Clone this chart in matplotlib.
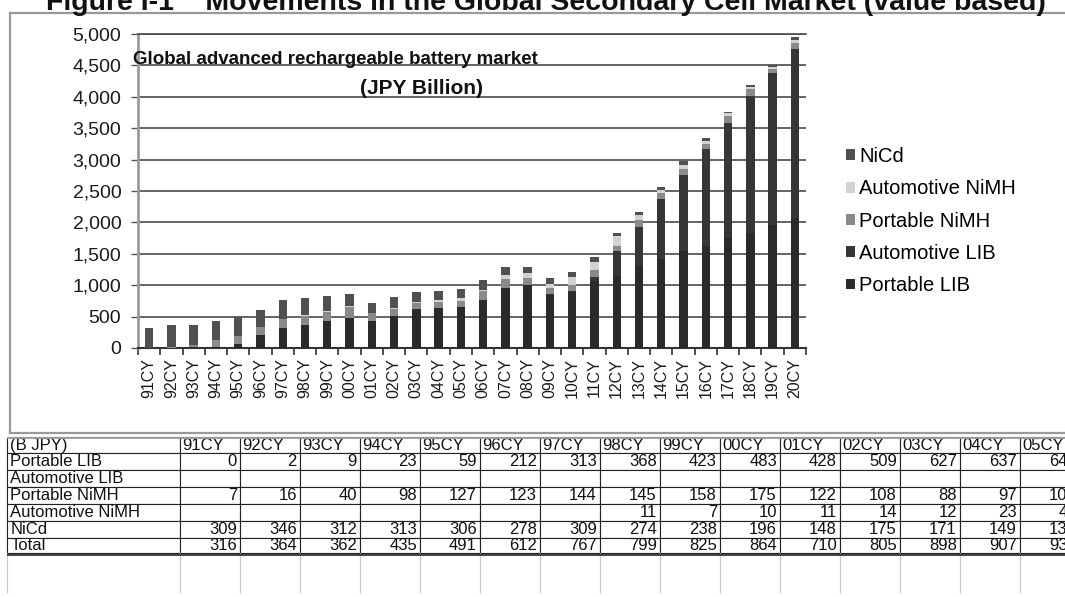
import numpy as np
import matplotlib.pyplot as plt
from matplotlib.lines import Line2D
from matplotlib.table import Table

plt.rcParams['font.family'] = ['Liberation Sans', 'DejaVu Sans']

years = ['91CY', '92CY', '93CY', '94CY', '95CY', '96CY', '97CY', '98CY', '99CY', '00CY',
         '01CY', '02CY', '03CY', '04CY', '05CY', '06CY', '07CY', '08CY', '09CY', '10CY',
         '11CY', '12CY', '13CY', '14CY', '15CY', '16CY', '17CY', '18CY', '19CY', '20CY']
portable_lib = [0, 2, 9, 23, 59, 212, 313, 368, 423, 483, 428, 509, 627, 637, 647,
                760, 950, 1000, 850, 885, 1070, 1140, 1300, 1420, 1550, 1630, 1750, 1830, 1960, 2070]
automotive_lib = [0, 0, 0, 0, 0, 0, 0, 0, 0, 0, 0, 0, 0, 0, 0,
                  0, 0, 0, 3, 20, 60, 400, 630, 950, 1210, 1540, 1840, 2190, 2420, 2690]
portable_nimh = [7, 16, 40, 98, 127, 123, 144, 145, 158, 175, 122, 108, 88, 97, 103,
                 140, 147, 120, 105, 95, 105, 90, 105, 95, 95, 80, 105, 105, 70, 95]
automotive_nimh = [0, 0, 0, 0, 0, 0, 0, 11, 7, 10, 11, 14, 12, 23, 44,
                   26, 68, 79, 68, 130, 142, 147, 79, 58, 58, 47, 42, 32, 32, 53]
nicd = [309, 346, 312, 313, 306, 278, 309, 274, 238, 196, 148, 175, 171, 149, 139,
        155, 126, 89, 84, 84, 79, 53, 53, 47, 58, 42, 27, 32, 32, 37]
# totals as printed in the table (rounded)
table_total = [316, 364, 362, 435, 491, 612, 767, 799, 825, 864, 710, 805, 898, 907, 933]

W, H = 1065, 597
def fx(px):
    return px / W
def fy(py):
    return 1 - py / H

fig = plt.figure(figsize=(W / 100, H / 100), dpi=100)

# outer figure title (cut at top like the original) and chart frame
fig.text(fx(546), fy(10), 'Figure I-1    Movements in the Global Secondary Cell Market (value based)',
         ha='center', va='baseline', fontsize=20.5, fontweight='bold', color='#111')
for xs, ys in [([10, 1065], [13, 13]), ([10, 10], [13, 433]), ([10, 1065], [433, 433])]:
    fig.add_artist(Line2D([fx(v) for v in xs], [fy(v) for v in ys],
                          transform=fig.transFigure, color='#999999', lw=1.6))

# stacked bars
ax = fig.add_axes([fx(138), fy(348), fx(806) - fx(138), fy(34) - fy(348)])
x = np.arange(len(years))
series = [(portable_lib, 'Portable LIB', '#2a2a2a'),
          (automotive_lib, 'Automotive LIB', '#363636'),
          (portable_nimh, 'Portable NiMH', '#8a8a8a'),
          (automotive_nimh, 'Automotive NiMH', '#d2d2d2'),
          (nicd, 'NiCd', '#505050')]
bottom = np.zeros(len(years))
for vals, name, col in series:
    ax.bar(x, vals, 0.38, bottom=bottom, color=col, label=name, zorder=3)
    bottom += np.array(vals)

ax.set_xlim(-0.5, len(years) - 0.5)
ax.set_ylim(0, 5000)
yt = np.arange(0, 5001, 500)
ax.set_yticks(yt)
ax.set_yticklabels([f'{v:,}' for v in yt])
ax.yaxis.grid(True, color='#4a4a4a', lw=1.2, zorder=0)
ax.set_xticks(x)
ax.set_xticklabels(years, rotation=90)
ax.set_xticks(np.arange(-0.5, len(years)), minor=True)
ax.tick_params(axis='x', which='major', length=0, pad=7, labelsize=11.5, labelcolor='#1a1a1a')
ax.tick_params(axis='x', which='minor', length=5, width=1.2, color='#333')
ax.tick_params(axis='y', length=5, width=1, color='#555', labelsize=14, pad=7, labelcolor='#1a1a1a')
ax.spines['right'].set_visible(False)
ax.spines['top'].set_color('#4a4a4a')
ax.spines['top'].set_linewidth(1.2)
ax.spines['left'].set_color('#9a9a9a')
ax.spines['left'].set_linewidth(2)
ax.spines['bottom'].set_color('#333')
ax.spines['bottom'].set_linewidth(1.5)

fig.text(fx(335), fy(64), 'Global advanced rechargeable battery market', ha='center',
         va='baseline', fontsize=13.5, fontweight='bold', color='#111')
fig.text(fx(422), fy(94), '(JPY Billion)', ha='center', va='baseline',
         fontsize=15, fontweight='bold', color='#111')

handles, labels = ax.get_legend_handles_labels()
fig.legend(handles[::-1], labels[::-1], loc='upper left', bbox_to_anchor=(fx(838), fy(139)),
           frameon=False, fontsize=14.5, handlelength=0.45, handleheight=0.45,
           handletextpad=0.2, labelspacing=0.66, borderaxespad=0)

# data table below the chart (runs off the right edge like the original)
ncol = 15
row_names = ['Portable LIB', 'Automotive LIB', 'Portable NiMH', 'Automotive NiMH', 'NiCd', 'Total']
row_vals = [portable_lib[:ncol], automotive_lib[:ncol], portable_nimh[:ncol],
            automotive_nimh[:ncol], nicd[:ncol], table_total]
widths = [173] + [60] * ncol
heights = [16, 17, 17, 17, 17, 17, 15, 40]
tw, th = sum(widths), sum(heights)

tax = fig.add_axes([fx(7), fy(437 + th), tw / W, th / H])
tax.axis('off')
tbl = Table(tax, bbox=[0, 0, 1, 1])
for c in range(ncol + 1):
    w = widths[c] / tw
    txt = '(B JPY)' if c == 0 else years[c - 1]
    cell = tbl.add_cell(0, c, w, heights[0] / th, text=txt, loc='left', edgecolor='#222')
    cell.PAD = 0.02 if c == 0 else 0.04
    for r, name in enumerate(row_names, start=1):
        if c == 0:
            txt, loc = name, 'left'
        else:
            v = row_vals[r - 1][c - 1]
            blank = (r in (2, 4)) and v == 0
            txt, loc = ('' if blank else str(v)), 'right'
        cell = tbl.add_cell(r, c, w, heights[r] / th, text=txt, loc=loc, edgecolor='#222')
        cell.PAD = 0.02 if c == 0 else 0.05
    cell = tbl.add_cell(7, c, w, heights[7] / th, text='', edgecolor='#c8c8c8')
    cell.visible_edges = 'LR'
tbl.auto_set_font_size(False)
tbl.set_fontsize(12)
for cell in tbl.get_celld().values():
    cell.set_linewidth(0.8)
    cell.get_text().set_color('#111')
tax.add_table(tbl)
tax.axhline(heights[7] / th - 0.012, color='#222', lw=1.2)
tax.axhline(1.0, color='#999', lw=2)

fig.savefig('out.png', dpi=100)
